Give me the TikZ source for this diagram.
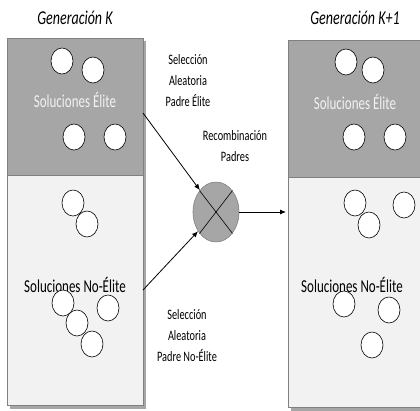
\documentclass[tikz,border=0pt]{standalone}
\usepackage{fontspec}
\usepackage{graphicx}
\setmainfont{Carlito}
\usetikzlibrary{arrows.meta,calc,shapes.geometric}
\definecolor{elitefill}{HTML}{A6A6A6}
\definecolor{nonfill}{HTML}{F2F2F2}
\definecolor{panelline}{HTML}{808080}
\newcommand{\tallt}[1]{\scalebox{1}[1.4]{#1}}
\begin{document}
\begin{tikzpicture}[x=1pt,y=-1pt,
  panel/.style={draw=panelline,line width=0.8pt},
  sol/.style={draw=black,fill=white,ellipse,minimum width=22pt,minimum height=26pt,inner sep=0pt,line width=0.6pt},
  gen/.style={font=\fontsize{14}{16}\selectfont\itshape},
  lab/.style={font=\fontsize{10.3}{21}\selectfont,align=center},
  bigw/.style={font=\fontsize{13}{15}\selectfont,text=nonfill},
  bigb/.style={font=\fontsize{13}{15}\selectfont,text=black},
  conn/.style={-{Latex[length=6pt,width=5pt]},line width=0.8pt}]
\useasboundingbox (0,0) rectangle (420,410);
% shadows
\fill[panelline!70] (10,41) rectangle (146,409);
\fill[panelline!70] (291,43) rectangle (427,411);
% left panel
\node[panel,fill=elitefill,anchor=north west,minimum width=136pt,minimum height=137pt,inner sep=0pt] (eliteK) at (7,38) {};
\node[panel,fill=nonfill,anchor=north west,minimum width=136pt,minimum height=230pt,inner sep=0pt] (nonK) at (7,175) {};
% right panel
\node[panel,fill=elitefill,anchor=north west,minimum width=136pt,minimum height=137pt,inner sep=0pt] (eliteK1) at (288,40) {};
\node[panel,fill=nonfill,anchor=north west,minimum width=136pt,minimum height=230pt,inner sep=0pt] (nonK1) at (288,177) {};
% titles
\node[gen] (tK) at (75,18) {\tallt{Generación K}};
\node[gen] (tK1) at (355,18) {\tallt{Generación K+1}};
% labels in panels
\node[bigw] (le) at (75,100) {\tallt{Soluciones Élite}};
\node[bigw] (re) at (355,102) {\tallt{Soluciones Élite}};
% solutions left elite
\node[sol] (a1) at (62,61) {};
\node[sol] (a2) at (93,70) {};
\node[sol] (a3) at (74,137) {};
\node[sol] (a4) at (115,137) {};
% left non-elite
\node[sol] (b1) at (73,203) {};
\node[sol] (b2) at (87,224) {};
\node[bigb] (ln) at (75,285) {\tallt{Soluciones No-Élite}};
\node[sol] (b3) at (63,303) {};
\node[sol] (b4) at (77,323) {};
\node[sol] (b5) at (92,344) {};
\node[sol] (b6) at (108,308) {};
% right elite
\node[sol] (c1) at (346,62) {};
\node[sol] (c2) at (373,70) {};
\node[sol] (c3) at (354,137) {};
\node[sol] (c4) at (395,137) {};
% right non-elite
\node[sol] (d1) at (355,203) {};
\node[sol] (d2) at (404,205) {};
\node[sol] (d3) at (369,225) {};
\node[bigb] (rn) at (352,285) {\tallt{Soluciones No-Élite}};
\node[sol] (d4) at (344,304) {};
\node[sol] (d5) at (389,310) {};
\node[sol] (d6) at (372,345) {};
% center recombination
\node[draw=panelline,fill=elitefill,ellipse,minimum width=46pt,minimum height=60pt,inner sep=0pt,line width=0.6pt] (rec) at (216,212) {};
\draw[line width=0.6pt] (rec.north west) -- (rec.south east);
\draw[line width=0.6pt] (rec.north east) -- (rec.south west);
% text labels
\node[lab] (selE) at (188,81) {\tallt{Selección}\\\tallt{Aleatoria}\\\tallt{Padre Élite}};
\node[lab] (recL) at (235,146) {\tallt{Recombinación}\\\tallt{Padres}};
\node[lab] (selN) at (187,336) {\tallt{Selección}\\\tallt{Aleatoria}\\\tallt{Padre No-Élite}};
% connectors
\coordinate (s1) at (143,113);
\coordinate (s2) at (143,290);
\coordinate (t1) at (286,212);
\draw[conn] (s1) -- (rec);
\draw[conn] (s2) -- (rec);
\draw[conn] (rec.east) -- (t1);
\end{tikzpicture}
\end{document}
